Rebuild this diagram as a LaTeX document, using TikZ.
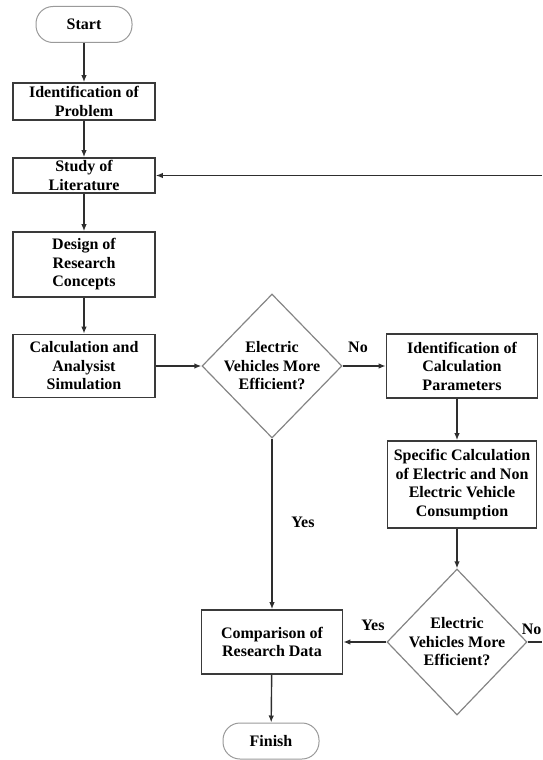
\documentclass[tikz,border=0pt]{standalone}
\usepackage{fontspec}
\setmainfont{Liberation Serif}
\usetikzlibrary{shapes.geometric,arrows.meta}
\definecolor{boxc}{HTML}{3A3A3A}
\definecolor{linec}{HTML}{2E2E2E}
\definecolor{decc}{HTML}{858585}
\definecolor{termc}{HTML}{9A9A9A}
\begin{document}
\begin{tikzpicture}[x=1pt,y=-1pt,
  every node/.style={font=\fontsize{16}{18.5}\selectfont\bfseries},
  box/.style={draw=boxc,line width=1.6pt,rectangle,align=center,inner sep=0pt},
  term/.style={draw=termc,line width=1pt,rectangle,rounded corners=17pt,align=center,inner sep=0pt,minimum width=96pt,minimum height=36pt},
  dec/.style={draw=decc,line width=1.2pt,diamond,inner sep=0pt},
  conn/.style={draw=linec,line width=1.4pt,-{Latex[length=7pt,width=5.5pt]}},
  plain/.style={draw=linec,line width=1.4pt},
  lab/.style={inner sep=0pt}]
\path[use as bounding box] (0,0) rectangle (542,760);
\clip (0,0) rectangle (542,760);

\node[term] (start) at (84,24.5) {Start};
\node[box,minimum width=142pt,minimum height=37pt] (idp) at (84,101.5) {Identification of\\Problem};
\node[box,minimum width=142pt,minimum height=35pt] (study) at (84,175.5) {Study of\\Literature};
\node[box,minimum width=142pt,minimum height=65pt] (design) at (84,264.5) {Design of\\Research\\Concepts};
\node[box,minimum width=142pt,minimum height=63pt] (calc) at (84,366) {Calculation and\\Analysist\\Simulation};
\node[dec,minimum width=140pt,minimum height=144pt,
  label={[lab,align=center]center:Electric\\Vehicles More\\Efficient?}] (d1) at (272,366) {};
\node[box,minimum width=151pt,minimum height=64pt] (idcp) at (462,366) {Identification of\\Calculation\\Parameters};
\node[box,minimum width=149pt,minimum height=87pt] (spec) at (462,484.5) {Specific Calculation\\of Electric and Non\\Electric Vehicle\\Consumption};
\node[dec,minimum width=140pt,minimum height=146pt,
  label={[lab,align=center]center:Electric\\Vehicles More\\Efficient?}] (d2) at (457,642) {};
\node[box,minimum width=141pt,minimum height=64pt] (comp) at (272,642) {Comparison of\\Research Data};
\node[term] (finish) at (271,741) {Finish};

\node[lab] (no1) at (358,347) {No};
\node[lab] (yes1) at (303,522) {Yes};
\node[lab] (yes2) at (373,625) {Yes};
\node[lab,anchor=east] (no2) at (541.5,629) {No};

\coordinate (r1) at (542,175.5);
\coordinate (r2) at (542,642);

\draw[conn] (start) -- (idp);
\draw[conn] (idp) -- (study);
\draw[conn] (study) -- (design);
\draw[conn] (design) -- (calc);
\draw[conn] (calc) -- (d1);
\draw[conn] (d1) -- (idcp);
\draw[conn] (idcp.south -| d2) -- (spec.north -| d2);
\draw[conn] (spec.south -| d2) -- (d2);
\draw[conn] (d2) -- (comp);
\draw[plain] (d2.east) -- (r2);
\draw[conn] (r1) -- (study);
\draw[conn] (d1) -- (comp);
\draw[conn] (comp) -- (finish);
\end{tikzpicture}
\end{document}
